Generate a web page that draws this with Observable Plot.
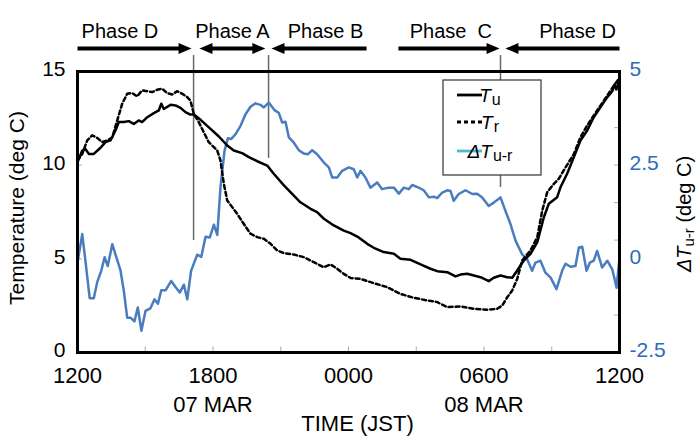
<!DOCTYPE html>
<html><head><meta charset="utf-8">
<script src="https://cdn.jsdelivr.net/npm/d3@7"></script>
<script src="https://cdn.jsdelivr.net/npm/@observablehq/plot@0.6"></script>
<style>body{margin:0;background:#fff} svg{display:block}</style>
</head><body><div id="chart"></div>
<script>
// ---- data (hours after 1200 JST, 07 MAR) ----
const hoursTu = [0.0,0.21,0.35,0.50,0.72,1.02,1.24,1.46,1.68,1.83,2.05,2.27,2.49,2.71,2.86,3.09,3.38,3.60,3.71,3.82,4.12,4.34,4.56,4.78,5.00,5.15,5.45,5.89,6.26,6.63,6.92,7.29,7.59,7.96,8.40,8.69,9.14,9.58,9.87,10.32,10.61,10.91,11.35,11.79,12.09,12.39,12.83,13.12,13.56,14.01,14.30,14.75,15.19,15.63,15.93,16.37,16.74,16.96,17.26,17.55,17.85,18.21,18.43,18.73,19.03,19.25,19.47,19.76,20.06,20.36,20.65,20.87,21.24,21.39,21.68,21.98,22.27,22.57,22.86,23.16,23.46,23.68,23.78,23.86,23.97];
const tempTu = [10.16,10.78,10.87,10.6,10.6,10.93,11.23,11.32,11.85,12.3,12.3,12.35,12.2,12.39,12.3,12.56,12.78,12.92,13.28,13.0,13.22,13.19,13.06,12.83,12.7,12.7,12.42,11.94,11.53,11.05,10.78,10.64,10.43,10.21,9.98,9.54,8.92,8.38,8.02,7.67,7.49,7.14,6.78,6.51,6.37,6.19,5.8,5.59,5.36,5.27,5.0,4.95,4.7,4.47,4.34,4.29,4.06,4.16,4.2,4.11,4.02,3.81,3.99,4.11,4.02,3.99,4.38,4.91,5.27,5.89,7.22,7.94,8.29,8.83,9.54,10.43,11.32,11.85,12.56,13.1,13.63,13.95,14.3,14.05,14.45];

const hoursTr = [0.0,0.21,0.43,0.65,0.87,1.09,1.32,1.54,1.76,1.98,2.20,2.42,2.64,2.86,3.09,3.31,3.53,3.75,3.97,4.19,4.41,4.64,4.86,5.00,5.15,5.37,5.59,5.81,6.04,6.19,6.33,6.48,6.63,6.85,7.07,7.36,7.66,7.96,8.25,8.55,8.84,9.14,9.58,10.02,10.46,10.91,11.20,11.50,11.79,12.09,12.53,13.12,13.71,14.30,14.89,15.49,15.93,16.37,16.96,17.55,18.14,18.58,18.81,19.03,19.25,19.47,19.69,20.06,20.36,20.58,20.80,21.09,21.31,21.53,21.98,22.27,22.57,23.01,23.46,23.75,23.97];
const tempTr = [10.25,10.6,11.32,11.59,11.46,11.23,11.32,11.49,12.39,13.28,13.81,13.85,13.67,13.99,13.95,13.9,14.03,14.08,13.85,13.77,13.95,13.81,13.63,13.45,12.74,12.3,11.76,11.23,10.96,10.78,10.25,9.0,8.12,7.76,7.4,6.87,6.34,6.16,6.07,5.8,5.45,5.3,5.23,5.09,4.82,4.55,4.7,4.47,4.2,3.98,3.93,3.7,3.49,3.13,2.92,2.78,2.69,2.42,2.46,2.33,2.28,2.33,2.51,2.95,3.31,3.93,4.91,5.45,6.16,7.58,8.56,9.0,9.27,9.72,10.6,11.49,12.12,12.92,13.72,14.25,14.6];

const hoursDT = [0.0,0.21,0.35,0.54,0.72,0.87,1.05,1.20,1.34,1.54,1.68,1.90,2.05,2.20,2.35,2.52,2.67,2.83,3.01,3.23,3.41,3.56,3.71,3.90,4.15,4.34,4.53,4.71,4.86,5.03,5.30,5.48,5.67,5.86,6.04,6.19,6.33,6.51,6.66,6.81,7.00,7.22,7.44,7.66,7.88,8.10,8.25,8.47,8.72,8.91,9.06,9.21,9.36,9.58,9.80,10.02,10.20,10.39,10.61,10.91,11.13,11.28,11.50,11.72,12.01,12.23,12.39,12.53,12.75,12.97,13.27,13.49,13.78,14.01,14.23,14.45,14.67,14.82,15.11,15.33,15.56,15.78,15.93,16.15,16.37,16.52,16.66,16.88,17.18,17.48,17.70,17.92,18.21,18.43,18.73,18.95,19.17,19.40,19.69,19.91,20.13,20.28,20.50,20.72,20.95,21.21,21.46,21.61,21.83,22.05,22.20,22.35,22.54,22.69,22.86,23.01,23.23,23.46,23.68,23.87,24.0];
const deltaT = [-0.1,0.66,-0.05,-1.05,-1.05,-0.63,-0.32,0.04,-0.19,0.39,0.12,-0.3,-0.85,-1.57,-1.57,-1.67,-1.3,-1.92,-1.39,-1.32,-1.08,-1.2,-0.84,-0.84,-0.59,-0.75,-0.9,-0.69,-1.08,-0.32,0.11,0.05,0.59,0.57,0.91,0.64,1.9,2.88,3.22,3.2,3.33,3.55,3.86,4.06,4.15,4.11,4.04,4.17,3.97,3.9,3.64,3.66,3.24,3.1,2.9,2.81,2.79,2.9,2.79,2.57,2.44,2.17,2.17,2.35,2.44,2.39,2.17,2.35,2.17,1.9,2.04,1.86,1.9,1.9,1.74,1.9,1.86,1.97,1.9,1.83,1.64,1.66,1.62,1.77,1.83,1.81,1.55,1.73,1.83,1.73,1.74,1.64,1.41,1.5,1.64,1.28,0.93,0.48,0.12,-0.01,-0.32,-0.1,-0.05,-0.37,-0.5,-0.81,-0.32,-0.13,-0.21,-0.19,0.3,0.32,-0.32,-0.1,-0.05,0.21,-0.23,-0.05,-0.28,-0.77,0.03];

// axes
const xTickHours = [0, 6, 12, 18, 24];
const xTickLabels = ["1200", "1800", "0000", "0600", "1200"];
const xMinorTicks = [3, 6, 9, 12, 15, 18, 21];
const dateHours = [6, 18];
const dateLabels = ["07 MAR", "08 MAR"];
const yTicks = [0, 5, 10, 15];
const yMinorTicks = [5, 10];
const rightTicks = [-2.5, 0, 2.5, 5];
const rightLabels = ["-2.5", "0", "2.5", "5"];
const rightMinorTicks = [-1.5, -0.5, 0.5, 1.5, 2.5, 3.5, 4.5];

// phases
const phaseNames = ["Phase D", "Phase A", "Phase B", "Phase\u00a0 C", "Phase D"];
const phaseLabelHours = [1.88, 6.86, 10.98, 16.53, 22.14];
const arrowStart = [0.0, 5.40, 8.59, 14.21, 18.95];
const arrowEnd = [5.05, 8.32, 12.8, 18.69, 24.0];
const arrowHeads = ["end", "both", "start", "end", "start"];
const phaseLineHours = [5.14, 8.46, 18.73];
const phaseLineBottoms = [5.98, 10.36, 8.81];

// ---- layout / style ----
const blue = "#4a7cc0";
const axisBlue = "#2e6bb8";
const legendBlue = "#4bb8d8";
const font = "Liberation Sans, Arial, sans-serif";
const arrowLevel = 16.23;
const vLineTop = 15.85;
const toLeft = d => (d + 2.5) * 2; // right axis [-2.5,5] -> left axis [0,15]

const shafts = arrowStart.map((s, i) => ({
  x1: s + (arrowHeads[i] !== "end" ? 0.35 : 0),
  x2: arrowEnd[i] - (arrowHeads[i] !== "start" ? 0.35 : 0)
}));
const rightTips = arrowEnd.filter((e, i) => arrowHeads[i] !== "start");
const leftTips = arrowStart.filter((s, i) => arrowHeads[i] !== "end");
const headRight = {draw(ctx) { ctx.moveTo(0, 0); ctx.lineTo(-13, -5.5); ctx.lineTo(-13, 5.5); ctx.closePath(); }};
const headLeft = {draw(ctx) { ctx.moveTo(0, 0); ctx.lineTo(13, -5.5); ctx.lineTo(13, 5.5); ctx.closePath(); }};

const chart = Plot.plot({
  width: 698, height: 445,
  marginLeft: 77, marginRight: 79, marginTop: 71, marginBottom: 93,
  style: {fontFamily: font, background: "white", color: "black", overflow: "visible"},
  x: {domain: [0, 24], axis: null},
  y: {domain: [0, 15], axis: null},
  marks: [
    Plot.ruleX(xMinorTicks, {x: d => d, y1: 0, y2: 0.3, stroke: "#aaa", strokeWidth: 1}),
    Plot.ruleY(yMinorTicks, {y: d => d, x1: 0, x2: 0.22, stroke: "#aaa", strokeWidth: 1}),
    Plot.ruleY(rightMinorTicks, {y: toLeft, x1: 23.78, x2: 24, stroke: "#aaa", strokeWidth: 1}),
    Plot.ruleX(phaseLineHours, {x: d => d, y1: vLineTop, y2: (d, i) => phaseLineBottoms[i], stroke: "#666", strokeWidth: 1.5}),
    Plot.line(deltaT, {x: hoursDT, y: deltaT.map(toLeft), stroke: blue, strokeWidth: 2.5}),
    Plot.line(tempTr, {x: hoursTr, y: d => d, stroke: "black", strokeWidth: 2.5, strokeDasharray: "4,3"}),
    Plot.line(tempTu, {x: hoursTu, y: d => d, stroke: "black", strokeWidth: 2.5}),
    Plot.frame({stroke: "black", strokeWidth: 3}),
    // phase annotations
    Plot.link(shafts, {x1: "x1", x2: "x2", y1: arrowLevel, y2: arrowLevel, stroke: "black", strokeWidth: 4}),
    Plot.dot(rightTips, {x: d => d, y: arrowLevel, symbol: headRight, r: 5, fill: "black", stroke: "none"}),
    Plot.dot(leftTips, {x: d => d, y: arrowLevel, symbol: headLeft, r: 5, fill: "black", stroke: "none"}),
    Plot.text(phaseNames, {x: phaseLabelHours, text: d => d, frameAnchor: "top", dy: -48, fontSize: 20, textAnchor: "middle"}),
    // x axis texts
    Plot.text(xTickLabels, {x: xTickHours, text: d => d, frameAnchor: "bottom", dy: 30, fontSize: 22, textAnchor: "middle"}),
    Plot.text(dateLabels, {x: dateHours, text: d => d, frameAnchor: "bottom", dy: 59, fontSize: 22, textAnchor: "middle"}),
    Plot.text(["TIME (JST)"], {frameAnchor: "bottom", dx: 9, dy: 78, fontSize: 22, textAnchor: "middle"}),
    // y axes
    Plot.text(yTicks, {y: d => d, text: d => String(d), frameAnchor: "left", dx: -12, dy: -2, textAnchor: "end", fontSize: 21}),
    Plot.text(rightLabels, {y: rightTicks.map(toLeft), text: d => d, frameAnchor: "right", dx: 10, dy: -2, textAnchor: "start", fontSize: 21, fill: axisBlue}),
    Plot.text(["Temperature (deg C)"], {frameAnchor: "left", dx: -60, dy: -4, rotate: -90, fontSize: 21, textAnchor: "middle"}),
    Plot.text(["ΔTu-r (deg C)"], {frameAnchor: "right", dx: 65, dy: 2, rotate: -90, fontSize: 20, textAnchor: "middle", className: "rtitle"})
  ]
});
document.getElementById("chart").append(chart);

// rich text for the right axis title
const svg = d3.select(chart);
const rt = svg.select(".rtitle text");
rt.text(null);
rt.append("tspan").attr("font-style", "italic").text("ΔT");
rt.append("tspan").attr("font-size", 15).attr("dy", 3).text("u-r");
rt.append("tspan").attr("dy", -3).text(" (deg C)");

// legend
const lg = svg.append("g").attr("font-family", font);
lg.append("rect").attr("x", 443).attr("y", 80).attr("width", 98).attr("height", 95)
  .attr("fill", "white").attr("stroke", "#333").attr("stroke-width", 1.2);
const legendItems = [
  {cy: 95, stroke: "black", dash: null, main: "T", sub: "u"},
  {cy: 122, stroke: "black", dash: "4,3", main: "T", sub: "r"},
  {cy: 151, stroke: legendBlue, dash: null, main: "ΔT", sub: "u-r"}
];
legendItems.forEach(it => {
  lg.append("line").attr("x1", 457).attr("x2", 482).attr("y1", it.cy).attr("y2", it.cy)
    .attr("stroke", it.stroke).attr("stroke-width", 2.8).attr("stroke-dasharray", it.dash);
  const t = lg.append("text").attr("x", 490).attr("y", it.cy + 7).attr("font-size", 19);
  t.append("tspan").attr("font-style", "italic").text(it.main);
  t.append("tspan").attr("font-size", 16).attr("dx", 1).attr("dy", 3).text(it.sub);
});
</script></body></html>
